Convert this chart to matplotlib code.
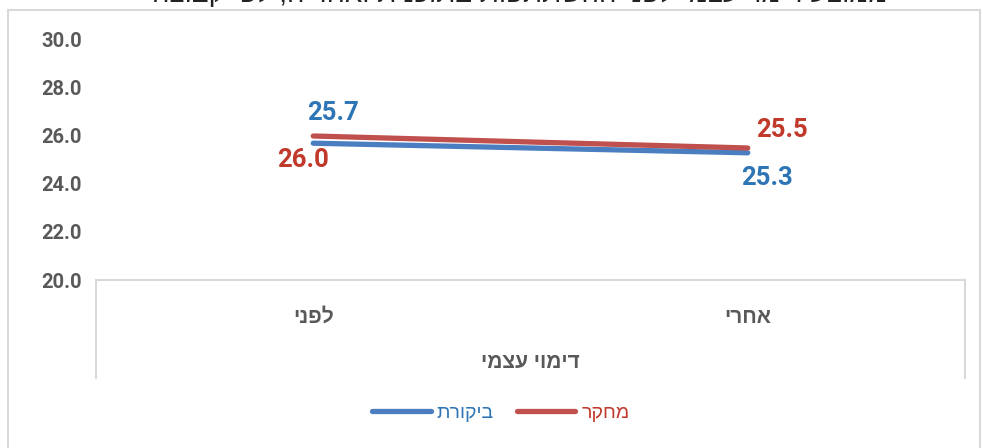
import re
import matplotlib
matplotlib.use("Agg")
import matplotlib.pyplot as plt
from matplotlib.lines import Line2D
from matplotlib.patches import Rectangle

# ---------------- data ----------------
categories = ["לפני", "אחרי"]
series_names = ["ביקורת", "מחקר"]
control_values = [25.7, 25.3]
research_values = [26.0, 25.5]
y_ticks = [20.0, 22.0, 24.0, 26.0, 28.0, 30.0]
axis_title = "דימוי עצמי"
chart_title = "ממוצע דימוי עצמי לפני ההשתתפות בתוכנית ואחריה, לפי קבוצה"

# ---------------- helpers ----------------
def vis(s):
    """Visual (LTR) order for right-to-left Hebrew text; keep digit runs intact."""
    r = s[::-1]
    return re.sub(r"[0-9.]+", lambda m: m.group(0)[::-1], r)

FONT = ["Liberation Sans", "DejaVu Sans"]
NUMFONT = ["Roboto", "DejaVu Sans"]
GRAY = "#595959"
LINE_GRAY = "#D9D9D9"
BLUE_LINE = "#4A7EC0"
RED_LINE = "#C0504D"
BLUE_TXT = "#2E75B6"
RED_TXT = "#C0392B"

W, H = 984, 448
fig = plt.figure(figsize=(W / 100, H / 100), dpi=100)

def fx(px):
    return px / W

def fy(py):
    return 1 - py / H

# outer chart border
fig.patches.append(Rectangle((fx(8), fy(470)), fx(980) - fx(8), fy(10) - fy(470),
                             transform=fig.transFigure, fill=False,
                             edgecolor=LINE_GRAY, lw=1.5, zorder=0))

# title (clipped at the top edge, as in the reference)
fig.text(fx(520), fy(8), vis(chart_title), ha="center", va="bottom",
         fontsize=20, color="#222222", family=FONT)

# plot area
ax = fig.add_axes([fx(96), fy(280), fx(965) - fx(96), fy(40) - fy(280)])
x = list(range(len(categories)))
ax.plot(x, control_values, color=BLUE_LINE, lw=3.8, solid_capstyle="round", zorder=3)
ax.plot(x, research_values, color=RED_LINE, lw=3.8, solid_capstyle="round", zorder=4)

ax.set_xlim(-0.5, len(categories) - 0.5)
ax.set_ylim(y_ticks[0], y_ticks[-1])
ax.set_yticks(y_ticks)
ax.set_yticklabels([f"{v:.1f}" for v in y_ticks], fontsize=14.5, fontweight="bold",
                   color=GRAY, family=NUMFONT)
ax.set_xticks(x)
ax.set_xticklabels([vis(c) for c in categories], fontsize=15, fontweight="bold",
                   color=GRAY, family=FONT)
ax.tick_params(axis="y", length=0, pad=10)
ax.tick_params(axis="x", length=0, pad=20)
for side in ["top", "left", "right"]:
    ax.spines[side].set_visible(False)
ax.spines["bottom"].set_color(LINE_GRAY)
ax.spines["bottom"].set_linewidth(1.5)
ax.set_facecolor("none")

# data labels
offsets_control = [(14, 22), (14, -18)]
offsets_research = [(-7, -17), (25, 13)]
for xi, v, off in zip(x, control_values, offsets_control):
    ax.annotate(f"{v:.1f}", (xi, v), xytext=off, textcoords="offset points",
                ha="center", va="center", fontsize=18.5, fontweight="bold",
                color=BLUE_TXT, family=NUMFONT)
for xi, v, off in zip(x, research_values, offsets_research):
    ax.annotate(f"{v:.1f}", (xi, v), xytext=off, textcoords="offset points",
                ha="center", va="center", fontsize=18.5, fontweight="bold",
                color=RED_TXT, family=NUMFONT)

# category box lines
for px in (96, 965):
    fig.add_artist(Line2D([fx(px), fx(px)], [fy(280), fy(378)], transform=fig.transFigure,
                          color=LINE_GRAY, lw=1.5))

# axis title
fig.text((fx(96) + fx(965)) / 2, fy(362), vis(axis_title), ha="center", va="center",
         fontsize=15, fontweight="bold", color=GRAY, family=FONT)

# legend
handles = [Line2D([], [], color=BLUE_LINE, lw=3.8, solid_capstyle="round"),
           Line2D([], [], color=RED_LINE, lw=3.8, solid_capstyle="round")]
leg = fig.legend(handles, [vis(s) for s in series_names], loc="center",
                 bbox_to_anchor=(fx(501), fy(413)), ncol=2, frameon=False,
                 handlelength=3.0, handletextpad=0.3, columnspacing=1.2,
                 prop={"family": FONT, "size": 14})
for t, c in zip(leg.get_texts(), [BLUE_TXT, RED_TXT]):
    t.set_color(c)

fig.savefig("out.png", dpi=100)
